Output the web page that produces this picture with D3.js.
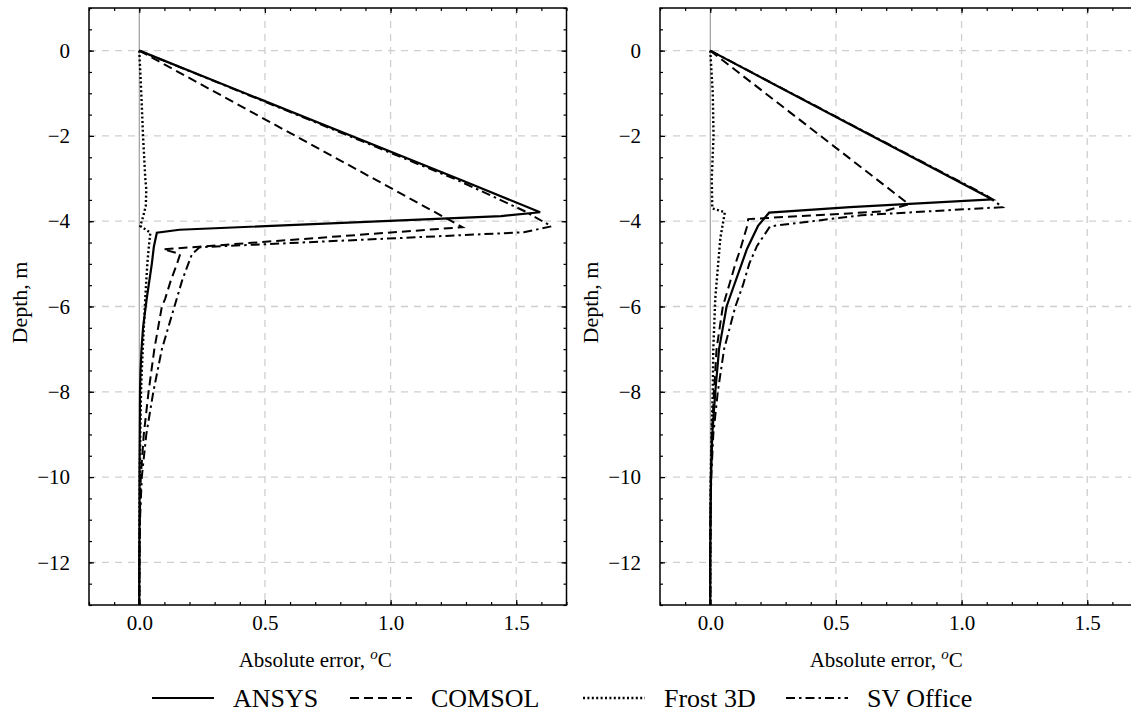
<!DOCTYPE html>
<html><head><meta charset="utf-8">
<script src="https://cdn.jsdelivr.net/npm/d3@7"></script>
<style>body{margin:0;background:#fff}svg{display:block}text{font-family:"Liberation Serif","Times New Roman",serif;fill:#000}</style>
</head><body><svg id="c" width="1131" height="712"></svg>
<script>
// ---------- data (depth in m, absolute error in °C) ----------
const seriesNames = ["ANSYS", "COMSOL", "Frost 3D", "SV Office"];
const xTickValues = [0, 0.5, 1.0, 1.5];
const yTickValues = [0, -2, -4, -6, -8, -10, -12];

// Left panel
const ansysDepthL  = [0, -3.0, -3.79, -3.88, -4.2, -4.27, -4.6, -5.0, -5.8, -6.5, -7.0, -7.5, -8, -9, -10, -11, -12, -13];
const ansysErrL    = [0, 1.266, 1.595, 1.44, 0.16, 0.07, 0.058, 0.05, 0.03, 0.015, 0.009, 0.005, 0.003, 0.002, 0.001, 0.001, 0, 0];
const comsolDepthL = [0, -4.14, -4.66, -4.77, -5.0, -5.4, -5.82, -6.0, -7.0, -8.0, -9.0, -10, -11, -12, -13];
const comsolErrL   = [0, 1.286, 0.096, 0.163, 0.15, 0.125, 0.103, 0.09, 0.06, 0.037, 0.018, 0.006, 0.002, 0.001, 0];
const frostDepthL  = [0, -1, -2, -3, -3.25, -3.64, -3.9, -4.11, -4.27, -4.6, -5.0, -5.8, -6.5, -7.5, -8, -9, -10, -11, -12, -13];
const frostErrL    = [0, 0.008, 0.015, 0.024, 0.028, 0.026, 0.015, 0.004, 0.044, 0.038, 0.032, 0.024, 0.018, 0.01, 0.007, 0.004, 0.002, 0.001, 0, 0];
const svDepthL     = [0, -3.02, -3.76, -4.12, -4.26, -4.61, -4.77, -5.0, -5.4, -6.0, -7.0, -8.0, -9.0, -10, -11, -12, -13];
const svErrL       = [0, 1.26, 1.532, 1.64, 1.53, 0.24, 0.21, 0.195, 0.17, 0.14, 0.09, 0.056, 0.028, 0.01, 0.003, 0.001, 0];

// Right panel
const ansysDepthR  = [0, -3.49, -3.67, -3.8, -4.11, -4.65, -5.0, -5.83, -6.0, -7, -8, -9, -10, -11, -12, -13];
const ansysErrR    = [0, 1.123, 0.556, 0.234, 0.19, 0.146, 0.125, 0.075, 0.065, 0.035, 0.02, 0.008, 0.003, 0.001, 0, 0];
const comsolDepthR = [0, -3.6, -3.77, -3.95, -4.11, -4.65, -5.0, -5.5, -6.0, -7, -8, -9, -10, -11, -12, -13];
const comsolErrR   = [0, 0.79, 0.69, 0.151, 0.147, 0.12, 0.1, 0.075, 0.05, 0.025, 0.015, 0.006, 0.002, 0.001, 0, 0];
const frostDepthR  = [0, -1, -2, -3, -3.7, -3.79, -4.4, -5.8, -7, -8, -9, -10, -11, -12, -13];
const frostErrR    = [0, 0.01, 0.013, 0.006, 0.008, 0.058, 0.04, 0.02, 0.012, 0.01, 0.005, 0.002, 0.001, 0, 0];
const svDepthR     = [0, -3.4, -3.67, -3.86, -4.12, -4.58, -5.0, -5.5, -6.0, -7, -8, -9, -10, -11, -12, -13];
const svErrR       = [0, 1.1, 1.163, 0.6, 0.238, 0.186, 0.155, 0.13, 0.1, 0.055, 0.03, 0.012, 0.004, 0.001, 0, 0];

const panelsData = [
  [[ansysDepthL, ansysErrL], [comsolDepthL, comsolErrL], [frostDepthL, frostErrL], [svDepthL, svErrL]],
  [[ansysDepthR, ansysErrR], [comsolDepthR, comsolErrR], [frostDepthR, frostErrR], [svDepthR, svErrR]]
];

// ---------- styles ----------
const FONT = "'Liberation Serif', 'Times New Roman', serif";
const dashes = [null, "9,5", "2,2.4", "9,4,2.5,4"];
const widths = [2.2, 2, 2.4, 2];
const panelBoxes = [{left: 89, right: 566.5}, {left: 660, right: 1137.5}];
const plotTop = 8, plotBottom = 605;

const svg = d3.select("#c");

panelBoxes.forEach((box, pi) => {
  const x = d3.scaleLinear().domain([-0.2, 1.7]).range([box.left, box.right]);
  const y = d3.scaleLinear().domain([-13, 1]).range([plotBottom, plotTop]);
  const g = svg.append("g");

  // grid
  g.selectAll(".gx").data(xTickValues.filter(v => v !== 0)).enter().append("line")
    .attr("x1", d => x(d)).attr("x2", d => x(d)).attr("y1", plotTop).attr("y2", plotBottom)
    .attr("stroke", "#cfcfcf").attr("stroke-width", 1.3).attr("stroke-dasharray", "7,6");
  g.selectAll(".gy").data(yTickValues).enter().append("line")
    .attr("x1", box.left).attr("x2", box.right).attr("y1", d => y(d)).attr("y2", d => y(d))
    .attr("stroke", "#cfcfcf").attr("stroke-width", 1.3).attr("stroke-dasharray", "7,6");
  g.append("line").attr("x1", x(0)).attr("x2", x(0)).attr("y1", plotTop).attr("y2", plotBottom)
    .attr("stroke", "#8a8a8a").attr("stroke-width", 1);

  // series
  const line = d3.line().x(d => x(d[1])).y(d => y(d[0]));
  panelsData[pi].forEach((s, si) => {
    const pts = s[0].map((dep, i) => [dep, s[1][i]]);
    const p = g.append("path").attr("d", line(pts)).attr("fill", "none")
      .attr("stroke", "#000").attr("stroke-width", widths[si])
      .attr("stroke-linejoin", "miter");
    if (dashes[si]) p.attr("stroke-dasharray", dashes[si]);
  });

  // axes: inner ticks all sides
  const minorX = d3.range(-2, 18).map(v => v / 10);
  const minorY = d3.range(-26, 3).map(v => v / 2);
  const fmtX = d3.format(".1f");
  const ax = (axisFn, scale, vals, size, fmt) => axisFn(scale).tickValues(vals).tickSize(size).tickFormat(fmt || "");
  const styleAxis = sel => {
    sel.attr("font-family", null);
    sel.select(".domain").remove();
    sel.selectAll("line").attr("stroke", "#000").attr("stroke-width", 1.2);
    sel.selectAll("text").style("font-family", FONT).attr("font-size", 21).attr("fill", "#000");
  };

  g.append("g").attr("transform", `translate(0,${plotBottom})`).call(ax(d3.axisBottom, x, minorX, -3)).call(styleAxis);
  g.append("g").attr("transform", `translate(0,${plotBottom})`).call(ax(d3.axisBottom, x, xTickValues, -5, fmtX).tickPadding(10)).call(styleAxis);
  g.append("g").attr("transform", `translate(0,${plotTop})`).call(ax(d3.axisTop, x, minorX, -3)).call(styleAxis);
  g.append("g").attr("transform", `translate(0,${plotTop})`).call(ax(d3.axisTop, x, xTickValues, -5)).call(styleAxis);
  g.append("g").attr("transform", `translate(${box.left},0)`).call(ax(d3.axisLeft, y, minorY, -3)).call(styleAxis);
  g.append("g").attr("transform", `translate(${box.left},0)`).call(ax(d3.axisLeft, y, yTickValues, -5, d3.format("d")).tickPadding(19)).call(styleAxis);
  g.append("g").attr("transform", `translate(${box.right},0)`).call(ax(d3.axisRight, y, minorY, -3)).call(styleAxis);
  g.append("g").attr("transform", `translate(${box.right},0)`).call(ax(d3.axisRight, y, yTickValues, -5)).call(styleAxis);

  // frame
  g.append("rect").attr("x", box.left).attr("y", plotTop).attr("width", box.right - box.left).attr("height", plotBottom - plotTop)
    .attr("fill", "none").attr("stroke", "#000").attr("stroke-width", 1.5);

  // axis titles
  const xt = g.append("text").attr("x", x(0.7)).attr("y", 667).attr("text-anchor", "middle")
    .attr("font-size", 21).style("font-family", FONT);
  xt.append("tspan").text("Absolute error, ");
  xt.append("tspan").text("o").attr("font-style", "italic").attr("font-size", 15).attr("dy", -8);
  xt.append("tspan").text("C").attr("dy", 8);
  g.append("text").attr("transform", `translate(${box.left - 62},${(plotTop + plotBottom) / 2 - 4}) rotate(-90)`)
    .attr("text-anchor", "middle").attr("font-size", 22).style("font-family", FONT).text("Depth, m");
});

// legend
const legX = [152, 350, 583, 786];
const legY = 698;
seriesNames.forEach((n, i) => {
  const l = svg.append("line").attr("x1", legX[i]).attr("x2", legX[i] + 62).attr("y1", legY).attr("y2", legY)
    .attr("stroke", "#000").attr("stroke-width", widths[i]);
  if (dashes[i]) l.attr("stroke-dasharray", dashes[i]);
  svg.append("text").attr("x", legX[i] + 81).attr("y", legY + 9).attr("font-size", 26).style("font-family", FONT).text(n);
});
</script></body></html>
